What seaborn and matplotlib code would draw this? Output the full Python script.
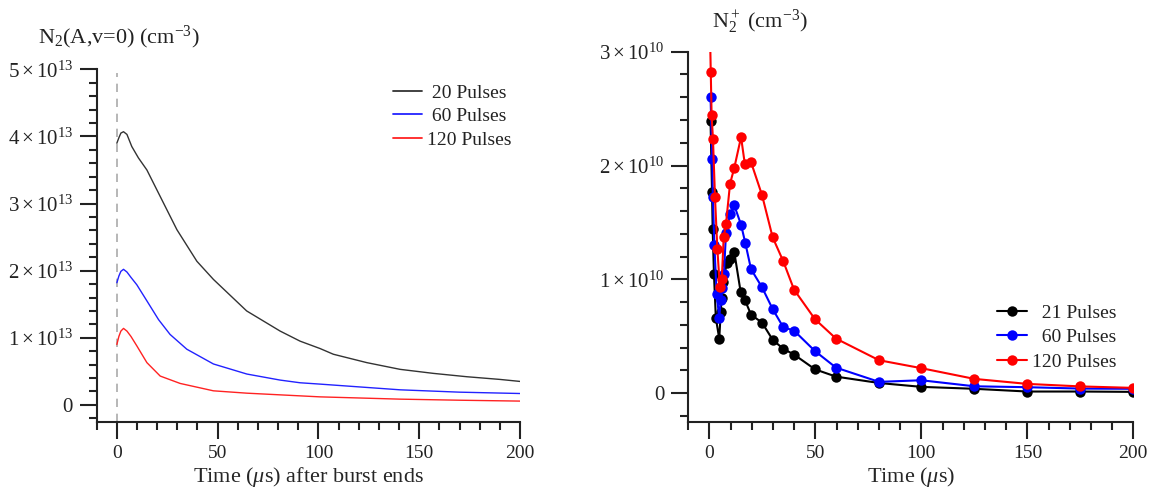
import numpy as np
import pandas as pd
import seaborn as sns
import matplotlib
matplotlib.use("Agg")
import matplotlib.pyplot as plt
from matplotlib.ticker import MultipleLocator, FixedLocator, FuncFormatter

# ---------------- data: left panel (N2(A,v=0), units of 1e13 cm^-3) ----------------
t_a = [0, 1, 2, 3.3, 5, 7.4, 10.7, 14.9, 23.1, 29.8, 39.7, 47.9, 64.4, 81, 90.9,
       100.8, 107.4, 124, 140.5, 157, 173.6, 190, 200]
na_20 = [3.90, 3.98, 4.05, 4.07, 4.03, 3.85, 3.68, 3.50, 3.01, 2.61, 2.14, 1.87, 1.40,
         1.10, 0.95, 0.84, 0.755, 0.63, 0.53, 0.47, 0.42, 0.38, 0.35]
t_b = [0, 1, 2, 3.3, 5, 7, 9.9, 14.9, 20.7, 26.4, 34.7, 47.9, 64.5, 81, 90.9, 100.8,
       140.5, 170, 200]
na_60 = [1.82, 1.92, 1.99, 2.02, 1.98, 1.90, 1.79, 1.55, 1.27, 1.05, 0.83, 0.61, 0.46,
         0.37, 0.33, 0.31, 0.225, 0.19, 0.17]
t_c = [0, 1, 2, 3.3, 5, 7, 9.9, 14.9, 21.5, 31.4, 47.9, 64.5, 100.8, 140.5, 170, 200]
na_120 = [0.90, 1.02, 1.10, 1.14, 1.10, 1.02, 0.88, 0.63, 0.43, 0.32, 0.21, 0.175, 0.12,
          0.086, 0.07, 0.057]
left_labels = [" 20 Pulses", " 60 Pulses", "120 Pulses"]

# ---------------- data: right panel (N2+, units of 1e10 cm^-3) ----------------
t_21 = [0.5, 1.2, 1.5, 2.1, 3.0, 4.6, 5.3, 5.7, 6.5, 8.1, 9.7, 11.7, 14.7, 16.7, 19.6,
        24.8, 29.8, 34.8, 39.9, 49.8, 59.7, 80, 100, 125, 150, 175, 200]
ni_21 = [2.39, 1.77, 1.44, 1.05, 0.66, 0.48, 0.71, 0.84, 0.98, 1.14, 1.18, 1.24, 0.89,
         0.82, 0.69, 0.62, 0.47, 0.39, 0.34, 0.21, 0.146, 0.09, 0.056, 0.039, 0.015,
         0.015, 0.012]
t_60 = [0.5, 1.3, 1.6, 2.3, 3.4, 4.6, 5.3, 5.9, 6.8, 7.8, 9.7, 11.7, 14.9, 16.9, 19.6,
        24.8, 29.8, 34.8, 39.9, 49.8, 59.7, 80, 100, 125, 150, 175, 200]
ni_60 = [2.60, 2.06, 1.72, 1.30, 0.87, 0.66, 0.82, 0.92, 1.05, 1.41, 1.57, 1.65, 1.48,
         1.32, 1.09, 0.93, 0.74, 0.58, 0.55, 0.37, 0.225, 0.10, 0.114, 0.061, 0.053,
         0.041, 0.039]
t_120 = [0.0, 0.6, 1.0, 1.65, 2.6, 3.7, 4.9, 5.8, 6.7, 7.8, 9.7, 11.7, 14.9, 16.7, 19.6,
         24.8, 29.8, 34.8, 39.9, 49.8, 59.7, 80, 100, 125, 150, 175, 200]
ni_120 = [3.40, 2.82, 2.44, 2.23, 1.72, 1.27, 0.93, 1.00, 1.37, 1.49, 1.84, 1.98, 2.25,
          2.01, 2.03, 1.74, 1.37, 1.16, 0.91, 0.65, 0.48, 0.29, 0.22, 0.126, 0.082,
          0.06, 0.047]
right_labels = ["\u200721 Pulses", "\u200760 Pulses", "120 Pulses"]

# ---------------- style ----------------
sns.set_theme(style="ticks")
plt.rcParams.update({
    "font.family": ["Liberation Serif", "DejaVu Serif"],
    "mathtext.fontset": "custom",
    "mathtext.rm": "Liberation Serif",
    "mathtext.it": "Liberation Serif:italic",
    "mathtext.bf": "Liberation Serif:bold",
    "font.size": 14,
    "axes.edgecolor": "#222222",
    "axes.linewidth": 1.5,
    "xtick.color": "#222222",
    "ytick.color": "#222222",
    "xtick.labelcolor": "#222222",
    "ytick.labelcolor": "#222222",
    "text.color": "#222222",
})

W, H = 1156, 499
fig = plt.figure(figsize=(W / 100, H / 100), dpi=100)

def px_axes(x0, y0, x1, y1):
    return fig.add_axes([x0 / W, 1 - y1 / H, (x1 - x0) / W, (y1 - y0) / H])

axL = px_axes(96.7, 69.3, 520, 421.7)
axR = px_axes(688.3, 51.7, 1133.3, 421.7)

def style_axis(ax):
    sns.despine(ax=ax)
    ax.tick_params(which="major", direction="out", length=12, width=1.5, pad=5)
    ax.tick_params(axis="x", which="major", labelsize=14)
    ax.tick_params(axis="y", which="major", labelsize=15)
    ax.tick_params(which="minor", direction="out", length=6, width=1.5)
    ax.xaxis.set_major_locator(FixedLocator([0, 50, 100, 150, 200]))
    ax.xaxis.set_minor_locator(MultipleLocator(10))
    ax.yaxis.set_minor_locator(MultipleLocator(0.2))
    ax.set_xlim(-10, 200)
    ax.grid(False)

# ---------------- left panel ----------------
colsL = ["#333333", "#2222ff", "#ff2222"]
axL.axvline(0, color="#aaaaaa", lw=1.2, ls=(0, (5, 4)), ymax=0.99, zorder=0)
for tt, vv, c, lab in zip([t_a, t_b, t_c], [na_20, na_60, na_120], colsL, left_labels):
    sns.lineplot(x=tt, y=vv, ax=axL, color=c, lw=1.0, label=lab, sort=False,
                 estimator=None)
axL.set_ylim(-0.25, 5)
axL.yaxis.set_major_locator(FixedLocator([0, 1, 2, 3, 4, 5]))
axL.yaxis.set_major_formatter(FuncFormatter(
    lambda v, p: "0" if abs(v) < 1e-9 else r"$%d\times10^{13}$" % round(v)))
style_axis(axL)
axL.set_xlabel(r"Time ($\mu$s) after burst ends", fontsize=16, labelpad=2)
axL.set_ylabel("")
legL = axL.legend(loc="upper left", bbox_to_anchor=(0.70, 0.958), frameon=False,
                  fontsize=14, handlelength=1.5, handletextpad=0.25,
                  labelspacing=0.3, borderpad=0, borderaxespad=0)
for ln in legL.get_lines():
    ln.set_linewidth(1.3)
fig.text(38 / W, 1 - 43 / H, r"N$_2$(A,v=0) (cm$^{-3}$)", fontsize=16, va="baseline")

# ---------------- right panel ----------------
colsR = ["#000000", "#0000ff", "#ff0000"]
for tt, vv, c, lab in zip([t_21, t_60, t_120], [ni_21, ni_60, ni_120], colsR, right_labels):
    sns.lineplot(x=tt, y=vv, ax=axR, color=c, lw=1.5, marker="o", markersize=7.5,
                 markeredgewidth=0, label=lab, sort=False, estimator=None)
axR.set_ylim(-0.25, 3.0)
axR.yaxis.set_major_locator(FixedLocator([0, 1, 2, 3]))
axR.yaxis.set_major_formatter(FuncFormatter(
    lambda v, p: "0" if abs(v) < 1e-9 else r"$%d\times10^{10}$" % round(v)))
style_axis(axR)
axR.set_xlabel(r"Time ($\mu$s)", fontsize=16, labelpad=2)
axR.set_ylabel("")
legR = axR.legend(loc="upper left", bbox_to_anchor=(0.693, 0.318), frameon=False,
                  fontsize=14, handlelength=1.55, handletextpad=0.25,
                  labelspacing=0.36, borderpad=0, borderaxespad=0)
fig.text(712 / W, 1 - 28 / H, r"N$_2^+$ (cm$^{-3}$)", fontsize=16, va="baseline")

fig.savefig("out.png", dpi=100)
